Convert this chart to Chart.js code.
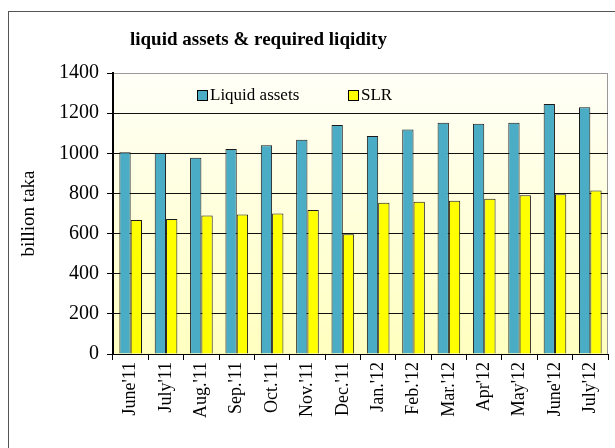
<!DOCTYPE html>
<html>
<head>
<meta charset="utf-8">
<script src="https://cdn.jsdelivr.net/npm/chart.js@4/dist/chart.umd.min.js"></script>
<style>
  html, body { margin: 0; padding: 0; background: #fff; }
  #wrap { width: 615px; height: 448px; position: relative; }
</style>
</head>
<body>
<div id="wrap"><canvas id="chart" width="615" height="448"></canvas></div>
<script>
// months on the x axis
const months = ['June\'11', 'July\'11', 'Aug.\'11', 'Sep.\'11', 'Oct.\'11', 'Nov.\'11', 'Dec.\'11',
    'Jan.\'12', 'Feb.\'12', 'Mar.\'12', 'Apr\'12', 'May\'12', 'June\'12', 'July\'12'];

// values (billion taka)
const liquidAssets = [1005, 1001, 978, 1021, 1040, 1068, 1141, 1086, 1119, 1152, 1147, 1152, 1245, 1229];
const slr = [667, 673, 690, 695, 700, 718, 597, 753, 758, 764, 774, 791, 796, 814];

const yTicks = [0, 200, 400, 600, 800, 1000, 1200, 1400];

const titleText = 'liquid assets & required liqidity';
const serif = '"Liberation Serif", "Times New Roman", serif';

// frame, plot background gradient, title and the legend inside the plot
const decorations = {
    id: 'decorations',
    beforeDraw(chart) {
        const ctx = chart.ctx;
        const a = chart.chartArea;
        ctx.save();
        ctx.strokeStyle = '#555';
        ctx.lineWidth = 1;
        ctx.strokeRect(8.5, 11.5, 700, 500);

        const grad = ctx.createLinearGradient(0, a.top, 0, a.bottom);
        grad.addColorStop(0, '#fffff8');
        grad.addColorStop(1, '#ffffc0');
        ctx.fillStyle = grad;
        ctx.fillRect(a.left, a.top, a.right - a.left, a.bottom - a.top);

        ctx.strokeStyle = '#999';
        ctx.beginPath();
        ctx.moveTo(a.left, a.top + 0.5);
        ctx.lineTo(a.right - 0.5, a.top + 0.5);
        ctx.lineTo(a.right - 0.5, a.bottom);
        ctx.stroke();

        ctx.fillStyle = '#000';
        ctx.font = 'bold 19px ' + serif;
        ctx.textAlign = 'left';
        ctx.textBaseline = 'middle';
        ctx.fillText(titleText, 130, 40);
        ctx.restore();
    },
    afterDatasetsDraw(chart) {
        const ctx = chart.ctx;
        const spots = [197, 348];
        ctx.save();
        ctx.font = '17px ' + serif;
        ctx.textBaseline = 'middle';
        ctx.textAlign = 'left';
        chart.data.datasets.forEach((ds, i) => {
            const x = spots[i];
            const y = 96;
            ctx.fillStyle = ds.backgroundColor;
            ctx.fillRect(x + 0.5, y - 5.5, 10, 10);
            ctx.strokeStyle = '#000';
            ctx.lineWidth = 1;
            ctx.strokeRect(x + 0.5, y - 5.5, 10, 10);
            ctx.fillStyle = '#000';
            ctx.fillText(ds.label, x + 13, y);
        });
        ctx.restore();
    }
};

new Chart(document.getElementById('chart'), {
    type: 'bar',
    data: {
        labels: months,
        datasets: [
            {
                label: 'Liquid assets',
                data: liquidAssets,
                backgroundColor: '#4bacc6',
                borderColor: '#1a1a1a',
                borderWidth: 1
            },
            {
                label: 'SLR',
                data: slr,
                backgroundColor: '#ffff00',
                borderColor: '#1a1a1a',
                borderWidth: 1
            }
        ]
    },
    options: {
        responsive: false,
        animation: false,
        layout: { padding: { top: 73, right: 7, left: 0, bottom: 0 } },
        datasets: {
            bar: { categoryPercentage: 0.64, barPercentage: 1.0 }
        },
        plugins: {
            legend: { display: false },
            title: { display: false },
            tooltip: { enabled: false }
        },
        scales: {
            x: {
                offset: true,
                afterFit(scale) { scale.height = 94; },
                grid: {
                    offset: true,
                    drawOnChartArea: false,
                    drawTicks: true,
                    tickLength: 6,
                    color: '#000'
                },
                border: { color: '#000', width: 1 },
                ticks: {
                    color: '#000',
                    font: { family: serif, size: 18 },
                    minRotation: 90,
                    maxRotation: 90,
                    autoSkip: false,
                    padding: 2
                }
            },
            y: {
                min: 0,
                max: 1400,
                afterFit(scale) { scale.width = 113; },
                afterBuildTicks(scale) { scale.ticks = yTicks.map(v => ({ value: v })); },
                grid: {
                    color: ctx => (ctx.tick && ctx.tick.value === 1400 ? '#999' : '#111'),
                    tickColor: '#000',
                    tickLength: 6,
                    lineWidth: 1
                },
                border: { color: '#000', width: 2 },
                ticks: {
                    color: '#000',
                    font: { family: serif, size: 20 },
                    padding: 8,
                    callback: v => String(v)
                },
                title: {
                    display: true,
                    text: 'billion taka',
                    color: '#000',
                    font: { family: serif, size: 19 },
                    padding: { top: 18, bottom: 0 }
                }
            }
        }
    },
    plugins: [decorations]
});
</script>
</body>
</html>
